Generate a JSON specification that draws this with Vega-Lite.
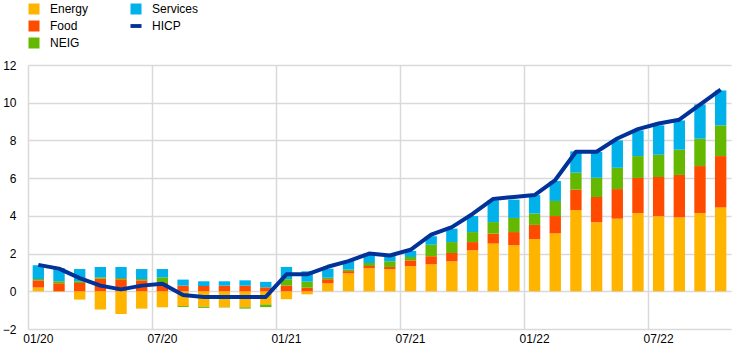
{
  "$schema": "https://vega.github.io/schema/vega-lite/v6.json",
  "width": 703,
  "height": 264,
  "autosize": {"type": "none"},
  "padding": {"left": 28, "top": 65, "right": 12, "bottom": 28},
  "background": "white",
  "config": {
    "view": {"stroke": null},
    "font": "Liberation Sans",
    "axis": {"labelFont": "Liberation Sans", "labelFontSize": 12, "labelColor": "#000000", "gridColor": "#d9d9d9", "gridWidth": 1.5, "domain": false, "ticks": false, "tickSize": 0, "title": null},
    "legend": {"labelFont": "Liberation Sans", "labelFontSize": 12, "labelColor": "#000000"}
  },
  "data": {"values": [
    {"m": "01/20", "Energy": 0.20, "Food": 0.38, "NEIG": 0.07, "Services": 0.73, "HICP": 1.4},
    {"m": "02/20", "Energy": -0.03, "Food": 0.42, "NEIG": 0.11, "Services": 0.71, "HICP": 1.2},
    {"m": "03/20", "Energy": -0.44, "Food": 0.44, "NEIG": 0.09, "Services": 0.65, "HICP": 0.7},
    {"m": "04/20", "Energy": -0.97, "Food": 0.67, "NEIG": 0.07, "Services": 0.55, "HICP": 0.3},
    {"m": "05/20", "Energy": -1.20, "Food": 0.64, "NEIG": 0.07, "Services": 0.58, "HICP": 0.1},
    {"m": "06/20", "Energy": -0.92, "Food": 0.58, "NEIG": 0.07, "Services": 0.53, "HICP": 0.3},
    {"m": "07/20", "Energy": -0.85, "Food": 0.44, "NEIG": 0.30, "Services": 0.44, "HICP": 0.4},
    {"m": "08/20", "Energy": -0.78, "Food": 0.30, "NEIG": -0.05, "Services": 0.32, "HICP": -0.2},
    {"m": "09/20", "Energy": -0.82, "Food": 0.28, "NEIG": -0.06, "Services": 0.25, "HICP": -0.3},
    {"m": "10/20", "Energy": -0.84, "Food": 0.30, "NEIG": -0.02, "Services": 0.23, "HICP": -0.3},
    {"m": "11/20", "Energy": -0.85, "Food": 0.30, "NEIG": -0.07, "Services": 0.28, "HICP": -0.3},
    {"m": "12/20", "Energy": -0.70, "Food": 0.21, "NEIG": -0.14, "Services": 0.29, "HICP": -0.3},
    {"m": "01/21", "Energy": -0.42, "Food": 0.30, "NEIG": 0.34, "Services": 0.65, "HICP": 0.9},
    {"m": "02/21", "Energy": -0.16, "Food": 0.19, "NEIG": 0.32, "Services": 0.55, "HICP": 0.9},
    {"m": "03/21", "Energy": 0.42, "Food": 0.22, "NEIG": 0.08, "Services": 0.48, "HICP": 1.3},
    {"m": "04/21", "Energy": 0.95, "Food": 0.12, "NEIG": 0.08, "Services": 0.45, "HICP": 1.6},
    {"m": "05/21", "Energy": 1.22, "Food": 0.12, "NEIG": 0.16, "Services": 0.50, "HICP": 2.0},
    {"m": "06/21", "Energy": 1.17, "Food": 0.12, "NEIG": 0.30, "Services": 0.30, "HICP": 1.9},
    {"m": "07/21", "Energy": 1.33, "Food": 0.31, "NEIG": 0.18, "Services": 0.32, "HICP": 2.2},
    {"m": "08/21", "Energy": 1.43, "Food": 0.43, "NEIG": 0.61, "Services": 0.45, "HICP": 3.0},
    {"m": "09/21", "Energy": 1.59, "Food": 0.44, "NEIG": 0.58, "Services": 0.71, "HICP": 3.4},
    {"m": "10/21", "Energy": 2.17, "Food": 0.44, "NEIG": 0.53, "Services": 0.85, "HICP": 4.1},
    {"m": "11/21", "Energy": 2.53, "Food": 0.53, "NEIG": 0.61, "Services": 1.15, "HICP": 4.9},
    {"m": "12/21", "Energy": 2.44, "Food": 0.70, "NEIG": 0.75, "Services": 0.97, "HICP": 5.0},
    {"m": "01/22", "Energy": 2.77, "Food": 0.75, "NEIG": 0.60, "Services": 0.98, "HICP": 5.1},
    {"m": "02/22", "Energy": 3.07, "Food": 0.92, "NEIG": 0.80, "Services": 1.06, "HICP": 5.9},
    {"m": "03/22", "Energy": 4.31, "Food": 1.08, "NEIG": 0.90, "Services": 1.13, "HICP": 7.4},
    {"m": "04/22", "Energy": 3.66, "Food": 1.34, "NEIG": 1.02, "Services": 1.37, "HICP": 7.4},
    {"m": "05/22", "Energy": 3.85, "Food": 1.57, "NEIG": 1.13, "Services": 1.45, "HICP": 8.1},
    {"m": "06/22", "Energy": 4.15, "Food": 1.86, "NEIG": 1.16, "Services": 1.36, "HICP": 8.6},
    {"m": "07/22", "Energy": 3.98, "Food": 2.08, "NEIG": 1.18, "Services": 1.56, "HICP": 8.9},
    {"m": "08/22", "Energy": 3.92, "Food": 2.25, "NEIG": 1.34, "Services": 1.55, "HICP": 9.1},
    {"m": "09/22", "Energy": 4.15, "Food": 2.49, "NEIG": 1.45, "Services": 1.82, "HICP": 9.9},
    {"m": "10/22", "Energy": 4.45, "Food": 2.72, "NEIG": 1.63, "Services": 1.85, "HICP": 10.7}
  ]},
  "encoding": {
    "x": {
      "field": "m", "type": "ordinal", "sort": null,
      "scale": {"paddingInner": 0, "paddingOuter": 0},
      "axis": {
        "values": ["01/20", "07/20", "01/21", "07/21", "01/22", "07/22"],
        "tickCount": 20,
        "bandPosition": 0, "grid": true, "labelAngle": 0, "labelPadding": 4
      }
    }
  },
  "layer": [
    {
      "transform": [{"fold": ["Energy", "Food", "NEIG", "Services"]}],
      "mark": {"type": "bar", "width": {"band": 0.55}},
      "encoding": {
        "y": {
          "field": "value", "type": "quantitative", "stack": "zero",
          "scale": {"domain": [-2, 12], "nice": false},
          "axis": {"values": [-2, 0, 2, 4, 6, 8, 10, 12], "tickCount": 20, "format": "d", "labelOverlap": false, "grid": true, "labelPadding": 12}
        },
        "color": {
          "field": "key", "type": "nominal",
          "scale": {
            "domain": ["Energy", "Food", "NEIG", "Services", "HICP"],
            "range": ["#ffb400", "#ff4b00", "#65b800", "#00b1ea", "#003299"]
          },
          "legend": {
            "orient": "none", "legendX": 0, "legendY": -62, "title": null,
            "columns": 2, "columnPadding": 41, "rowPadding": 5, "padding": 0,
            "symbolSize": 121, "labelOffset": 10,
            "encode": {
              "symbols": {"update": {
                "shape": {"signal": "datum.value === 'HICP' ? 'M-1,-0.35L1,-0.35L1,0.35L-1,0.35Z' : 'square'"},
                "fill": {"scale": "color", "field": "value"},
                "stroke": {"value": "transparent"},
                "strokeWidth": {"value": 0},
                "opacity": {"value": 1}
              }}
            }
          }
        },
        "order": {"field": "key", "sort": "ascending"}
      }
    },
    {
      "mark": {"type": "line", "strokeWidth": 4, "strokeJoin": "round"},
      "encoding": {
        "y": {
          "field": "HICP", "type": "quantitative",
          "scale": {"domain": [-2, 12], "nice": false},
          "axis": {"values": [-2, 0, 2, 4, 6, 8, 10, 12], "tickCount": 20, "format": "d", "labelOverlap": false, "grid": true, "labelPadding": 12}
        },
        "color": {"datum": "HICP"}
      }
    }
  ]
}
